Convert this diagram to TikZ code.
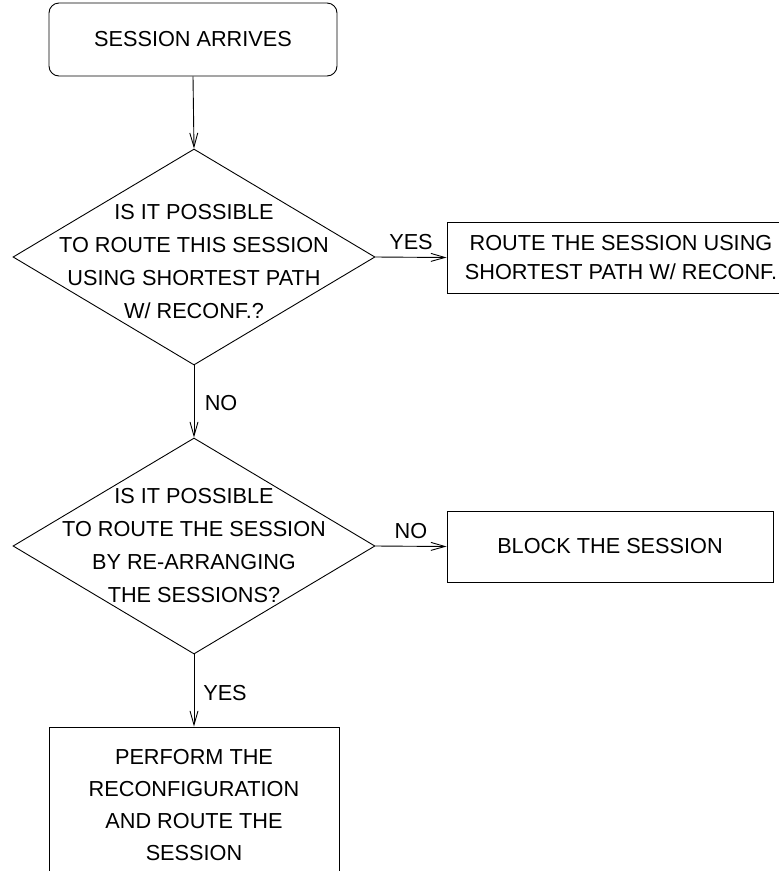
\documentclass[tikz,border=0pt]{standalone}
\usepackage{fontspec}
\setmainfont{Liberation Sans}
\usetikzlibrary{shapes.geometric,arrows.meta}

\tikzset{
  every node/.style={font=\fontsize{21.7}{33}\selectfont},
  flowline/.style={line width=0.9pt, draw=black},
  arr/.style={flowline, -{Straight Barb[length=14pt,width=8pt,line width=0.9pt]}},
  decision/.style={diamond, draw, line width=0.9pt, inner sep=0pt,
                   minimum width=362pt, minimum height=216pt},
  txt/.style={align=center, inner sep=0pt},
  procbox/.style={rectangle, draw, line width=0.9pt, align=center},
  lbl/.style={inner sep=3.33pt}
}

\begin{document}
\begin{tikzpicture}[x=1pt, y=-1pt]
  \useasboundingbox (0,0) rectangle (779,871);

  % start terminal
  \node[procbox, rounded corners=10pt, minimum width=288pt, minimum height=73pt]
    (start) at (193,39.5) {SESSION ARRIVES};

  % first decision
  \node[decision] (d1) at (194,257) {};
  \node[txt] (t1) at (194,262)
    {IS IT POSSIBLE\\TO ROUTE THIS SESSION\\USING SHORTEST PATH\\W/ RECONF.?};

  % route with shortest path
  \node[procbox, minimum width=348pt, minimum height=71pt,
        font=\fontsize{21.7}{29}\selectfont]
    (route) at (621,257.5) {ROUTE THE SESSION USING\\SHORTEST PATH W/ RECONF.};

  % second decision
  \node[decision] (d2) at (194,546) {};
  \node[txt] (t2) at (194,546)
    {IS IT POSSIBLE\\TO ROUTE THE SESSION\\BY RE-ARRANGING\\THE SESSIONS?};

  % blocking
  \node[procbox, minimum width=326pt, minimum height=71pt]
    (block) at (610,546.5) {BLOCK THE SESSION};

  % reconfiguration
  \node[procbox, minimum width=290pt, minimum height=156pt,
        font=\fontsize{21.7}{32}\selectfont]
    (perform) at (194,805) {PERFORM THE\\RECONFIGURATION\\AND ROUTE THE\\SESSION};

  % connectors
  \draw[arr] (start.south) -- (d1.north);
  \draw[arr] (d1.east) -- node[lbl, above=4pt] (yes1) {YES} (route.west);
  \draw[arr] (d1.south) -- node[lbl, pos=0.52, right=7pt] (no1) {NO} (d2.north);
  \draw[arr] (d2.east) -- node[lbl, above=4pt] (no2) {NO} (block.west);
  \draw[arr] (d2.south) -- node[lbl, pos=0.53, right=5.5pt] (yes2) {YES} (perform.north);
\end{tikzpicture}
\end{document}
